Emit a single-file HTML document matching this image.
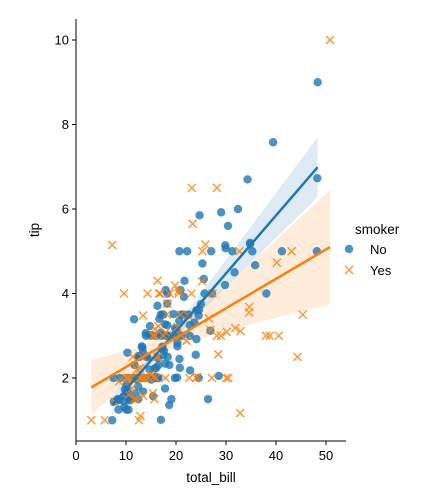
<!DOCTYPE html>
<html><head><meta charset="utf-8"><style>
html,body{margin:0;padding:0;background:#fff;}
svg{display:block;font-family:"Liberation Sans","DejaVu Sans",sans-serif;}
</style></head><body>
<svg id="chart" width="423" height="500" viewBox="0 0 423 500">
<g id="bands"></g><g id="points"></g><g id="lines"></g><g id="axes"></g><g id="legend"></g>
</svg>
<script>
const billNo=[16.99,10.34,21.01,23.68,24.59,25.29,8.77,26.88,15.04,14.78,10.27,35.26,15.42,18.43,14.83,21.58,10.33,16.29,16.97,20.65,17.92,20.29,15.77,39.42,19.82,17.81,13.37,12.69,21.7,19.65,9.55,18.35,15.06,20.69,17.78,24.06,16.31,16.93,18.69,31.27,16.04,17.46,13.94,9.68,30.4,18.29,22.23,32.4,28.55,18.04,12.54,10.29,34.81,9.94,25.56,19.49,26.41,48.27,17.59,20.08,16.45,20.23,12.02,17.07,14.73,10.51,27.2,22.76,17.29,16.66,10.07,15.98,34.83,13.03,18.28,24.71,21.16,22.49,22.75,12.46,20.92,18.24,14.0,7.25,38.07,23.95,25.71,17.31,29.93,10.65,12.43,24.08,11.69,13.42,14.26,15.95,12.48,29.8,8.52,14.52,11.38,22.82,19.08,20.27,11.17,12.26,18.26,8.51,10.33,14.15,13.16,17.47,34.3,41.19,27.05,16.43,8.35,18.64,11.87,9.78,7.51,14.07,13.13,17.26,24.55,19.77,29.85,48.17,25.0,13.39,16.49,21.5,12.66,16.21,13.81,24.52,20.76,31.71,20.69,7.56,48.33,15.98,20.45,13.28,11.61,10.77,10.07,35.83,29.03,17.82,18.78];
const tipNo=[1.01,1.66,3.5,3.31,3.61,4.71,2.0,3.12,1.96,3.23,1.71,5.0,1.57,3.0,3.02,3.92,1.67,3.71,3.5,3.35,4.08,2.75,2.23,7.58,3.18,2.34,2.0,2.0,4.3,3.0,1.45,2.5,3.0,2.45,3.27,3.6,2.0,3.07,2.31,5.0,2.24,2.54,3.06,1.32,5.6,3.0,5.0,6.0,2.05,3.0,2.5,2.6,5.2,1.56,4.34,3.51,1.5,6.73,2.64,3.15,2.47,2.01,1.97,3.0,2.2,1.25,4.0,3.0,2.71,3.4,1.83,2.03,5.17,2.0,4.0,5.85,3.0,3.5,3.25,1.5,4.08,3.76,3.0,1.0,4.0,2.55,4.0,3.5,5.07,1.5,1.8,2.92,2.31,1.68,2.5,2.0,2.52,4.2,1.48,2.0,2.0,2.18,1.5,2.83,1.5,2.0,3.25,1.25,2.0,2.0,2.75,3.5,6.7,5.0,5.0,2.3,1.5,1.36,1.63,1.73,2.0,2.5,2.0,2.74,2.0,2.0,5.14,5.0,3.75,2.61,2.0,3.5,2.5,2.0,2.0,3.48,2.24,4.5,5.0,1.44,9.0,3.0,3.0,2.72,3.39,1.47,1.25,4.67,5.92,1.75,3.0];
const billYes=[38.01,11.24,20.29,13.81,11.02,18.29,3.07,15.01,26.86,25.28,17.92,19.44,32.68,28.97,5.75,16.32,40.17,27.28,12.03,21.01,11.35,15.38,44.3,22.42,15.36,20.49,25.21,14.31,16.0,17.51,10.59,10.63,50.81,15.81,7.25,31.85,16.82,32.9,17.89,14.48,9.6,34.63,34.65,23.33,45.35,23.17,40.55,20.9,30.46,18.15,23.1,15.69,19.81,28.44,15.48,16.58,10.34,43.11,13.0,13.51,18.71,12.74,13.0,16.4,20.53,16.47,26.59,38.73,24.27,12.76,30.06,25.89,13.27,28.17,12.9,28.15,11.59,7.74,30.14,12.16,13.42,8.58,13.42,16.27,10.09,22.12,24.01,15.69,15.53,12.6,32.83,27.18,22.67];
const tipYes=[3.0,1.76,3.21,2.0,1.98,3.76,1.0,2.09,3.14,5.0,3.08,3.0,5.0,3.0,1.0,4.3,4.73,4.0,1.5,3.0,2.5,3.0,2.5,3.48,1.64,4.06,4.29,4.0,2.0,3.0,1.61,2.0,10.0,3.16,5.15,3.18,4.0,3.11,2.0,2.0,4.0,3.55,3.68,5.65,3.5,6.5,3.0,3.5,2.0,3.5,4.0,1.5,4.19,2.56,2.02,4.0,2.0,5.0,2.0,2.0,4.0,2.01,2.0,2.5,4.0,3.23,3.41,3.0,2.03,2.23,2.0,5.16,2.5,6.5,1.1,3.0,1.5,1.44,3.09,2.2,3.48,1.92,1.58,2.5,2.0,2.88,2.0,3.0,3.0,1.0,1.17,2.0,2.0];
const xTicks=[0,10,20,30,40,50];
const yTicks=[2,4,6,8,10];

const NS="http://www.w3.org/2000/svg";
const L=76,R=346,T=19,B=441;
const X=v=>76+5*v;
const Y=v=>378-(v-2)*42.25;
function mk(tag,attrs,parent){const e=document.createElementNS(NS,tag);for(const k in attrs)e.setAttribute(k,attrs[k]);parent.appendChild(e);return e;}
const gB=document.getElementById('bands'),gP=document.getElementById('points'),gL=document.getElementById('lines'),gA=document.getElementById('axes'),gG=document.getElementById('legend');

function fit(xs,ys){
  const n=xs.length;let mx=0,my=0;for(let i=0;i<n;i++){mx+=xs[i];my+=ys[i];}mx/=n;my/=n;
  let sxx=0,sxy=0;for(let i=0;i<n;i++){sxx+=(xs[i]-mx)**2;sxy+=(xs[i]-mx)*(ys[i]-my);}
  const b=sxy/sxx,a=my-b*mx;
  // robust (HC) variance of centered params
  let v0=0,v1=0,v01=0;
  for(let i=0;i<n;i++){const e=ys[i]-a-b*xs[i],d=xs[i]-mx;v0+=e*e;v1+=d*d*e*e;v01+=d*e*e;}
  v0/=n*n;v1/=sxx*sxx;v01/=n*sxx;
  return {a,b,mx,se:x=>Math.sqrt(v0+2*(x-mx)*v01+(x-mx)*(x-mx)*v1),min:Math.min(...xs),max:Math.max(...xs)};
}
function series(xs,ys,color,kind,name){
  const f=fit(xs,ys);const up=[],lo=[];
  for(let k=0;k<=60;k++){const x=f.min+(f.max-f.min)*k/60,y=f.a+f.b*x,s=1.97*f.se(x);up.push(X(x).toFixed(1)+','+Y(y+s).toFixed(1));lo.unshift(X(x).toFixed(1)+','+Y(y-s).toFixed(1));}
  const band=mk('polygon',{points:up.concat(lo).join(' '),fill:color,'fill-opacity':0.15},gB);
  
  
  for(let i=0;i<xs.length;i++){
    const cx=X(xs[i]),cy=Y(ys[i]);let m;
    if(kind==='o'){m=mk('circle',{cx,cy,r:4.2,fill:color,'fill-opacity':0.8},gP);}
    else{m=mk('path',{d:`M${cx-4},${cy-4}L${cx+4},${cy+4}M${cx-4},${cy+4}L${cx+4},${cy-4}`,stroke:color,'stroke-opacity':0.8,'stroke-width':1.5,fill:'none'},gP);}
    
    
  }
  const ln=mk('line',{x1:X(f.min),y1:Y(f.a+f.b*f.min),x2:X(f.max),y2:Y(f.a+f.b*f.max),stroke:color,'stroke-width':2.5},gL);
  
  
}
series(billNo,tipNo,'#1f77b4','o','nonsmoker');
series(billYes,tipYes,'#ff7f0e','x','smoker');

const sp1=mk('line',{x1:L,y1:T,x2:L,y2:B,stroke:'#000','stroke-width':1},gA);

const sp2=mk('line',{x1:L,y1:B,x2:R,y2:B,stroke:'#000','stroke-width':1},gA);

xTicks.forEach(v=>{
  const t=mk('line',{x1:X(v),y1:B,x2:X(v),y2:B+4,stroke:'#000'},gA);
  
  const tx=mk('text',{x:X(v),y:B+19,'font-size':13,'text-anchor':'middle',fill:'#000'},gA);tx.textContent=v;
  
});
yTicks.forEach(v=>{
  const t=mk('line',{x1:L-4,y1:Y(v),x2:L,y2:Y(v),stroke:'#000'},gA);
  
  const tx=mk('text',{x:L-7,y:Y(v)+4.5,'font-size':13,'text-anchor':'end',fill:'#000'},gA);tx.textContent=v;
  
});
const xl=mk('text',{x:211,y:482,'font-size':13.5,'text-anchor':'middle'},gA);xl.textContent='total_bill';

const yl=mk('text',{x:39,y:230,'font-size':13.5,'text-anchor':'middle',transform:'rotate(-90 39 230)'},gA);yl.textContent='tip';


const lt=mk('text',{x:355,y:234,'font-size':13.5},gG);lt.textContent='smoker';

const lc=mk('circle',{cx:349,cy:249,r:4.2,fill:'#1f77b4','fill-opacity':0.8},gG);

const ln1=mk('text',{x:370,y:254,'font-size':13},gG);ln1.textContent='No';

const lx=mk('path',{d:'M345,266L353,274M345,274L353,266',stroke:'#ff7f0e','stroke-width':1.5,'stroke-opacity':0.8},gG);

const ln2=mk('text',{x:370,y:275,'font-size':13},gG);ln2.textContent='Yes';

</script>
</body></html>
